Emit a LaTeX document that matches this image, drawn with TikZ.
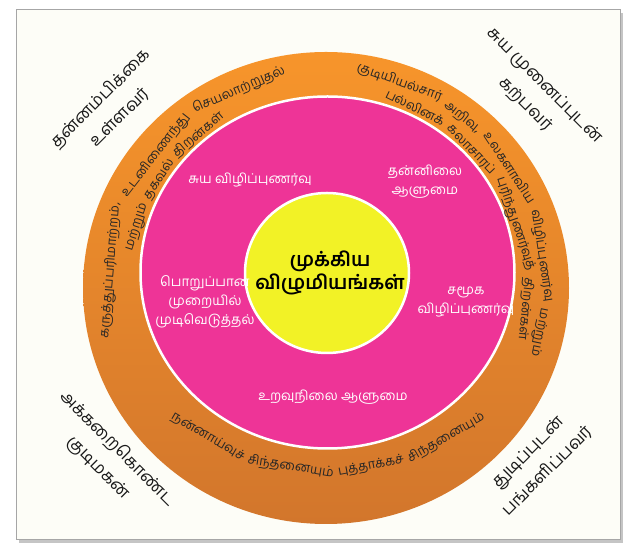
\documentclass[tikz,border=0pt]{standalone}
\usepackage{fontspec}
\usepackage{tikz}
\usetikzlibrary{calc,shadows,shapes.geometric}

\newfontfamily\tamil[Script=Tamil]{Hind Madurai}
\definecolor{framebg}{HTML}{FDFDF7}
\definecolor{ringtop}{HTML}{F7952B}
\definecolor{ringbot}{HTML}{D2762C}
\definecolor{discpink}{HTML}{EE3497}
\definecolor{coreyellow}{HTML}{F2F226}

\newcommand\ringfont{\tamil\fontsize{13}{15}\selectfont}
\newcommand\pinkfont{\tamil\fontsize{13.5}{19}\selectfont}
\newcommand\cornerfont{\tamil\fontsize{17}{27}\selectfont}
\newcommand\corefont{\tamil\bfseries\fontsize{19.5}{23}\selectfont}

% one line of words set along an arc
% #1 centre, #2 radius, #3 middle angle, #4 side (1 top, -1 bottom), #5 words
\newlength\wordwd
\def\arcgap{5}
\newcommand\arcwidth[1]{%
  \pgfinterruptpicture\settowidth\wordwd{\ringfont#1}\xdef\arcw{\the\wordwd}\endpgfinterruptpicture}
\newcommand\arcline[5]{%
  \gdef\arcsum{0}%
  \foreach \arcword in {#5}{%
    \arcwidth{\arcword}%
    \pgfmathsetmacro\arcnew{\arcsum+\arcw+\arcgap}%
    \xdef\arcsum{\arcnew}}%
  \pgfmathsetmacro\arccur{#3+#4*(\arcsum-\arcgap)/2/#2*180/pi}%
  \xdef\arccur{\arccur}%
  \foreach \arcword in {#5}{%
    \arcwidth{\arcword}%
    \pgfmathsetmacro\arcmid{\arccur-#4*(\arcw/2)/#2*180/pi}%
    \pgfmathsetmacro\arcrot{\arcmid-#4*90}%
    \node[ringtext,rotate=\arcrot] at ($(#1)+(\arcmid:#2)$) {\arcword};
    \pgfmathsetmacro\arcnext{\arccur-#4*(\arcw+\arcgap)/#2*180/pi}%
    \xdef\arccur{\arcnext}}%
}

\begin{document}
\begin{tikzpicture}[x=1pt,y=1pt,
  ringtext/.style={font=\ringfont, text=black!85, anchor=base, inner sep=0pt},
  pinktext/.style={font=\pinkfont, text=white, align=center},
  cornertext/.style={font=\cornerfont, text=black!90, align=center}]
  \useasboundingbox (0,0) rectangle (633,559);
  \fill[white] (0,0) rectangle (633,559);

  % frame
  \node (frame) [draw=gray!70, line width=1pt, fill=framebg,
    minimum width=604pt, minimum height=530pt,
    drop shadow={shadow xshift=3pt, shadow yshift=-3pt, opacity=0.45}] at (318,284) {};

  % rings
  \node (ring) [ellipse, inner sep=0pt, minimum width=486pt, minimum height=472pt,
    top color=ringtop, bottom color=ringbot] at (326,271) {};
  \node (disc) [ellipse, inner sep=0pt, minimum width=374pt, minimum height=352pt,
    fill=discpink, draw=white, line width=2.5pt] at (327.5,286.5) {};
  \node (core) [ellipse, inner sep=0pt, minimum width=164pt, minimum height=160pt,
    fill=coreyellow, draw=white, line width=2.5pt] at (327,286) {};

  \coordinate (ringc) at (326,271);
  \coordinate (lowc) at (328,326);

  % centre
  \node (values) [font=\corefont, align=center] at (330,286) {முக்கிய\\விழுமியங்கள்};

  % inner disc
  \node (selfaware) [pinktext] at (250,379) {சுய விழிப்புணர்வு};
  \node (selfmanage) [pinktext] at (425,377) {தன்னிலை\\ஆளுமை};
  \node (decision) [pinktext] at (205,257) {பொறுப்பான\\முறையில்\\முடிவெடுத்தல்};
  \node (socialaware) [pinktext] at (466,257) {சமூக\\விழிப்புணர்வு};
  \node (relation) [pinktext] at (333,162) {உறவுநிலை ஆளுமை};

  % outer ring
  \arcline{ringc}{213}{147}{1}{{கருத்துப்பரிமாற்றம்,},உடனிணைந்து,செயலாற்றுதல்}
  \arcline{ringc}{196}{145}{1}{மற்றும்,தகவல்,திறன்கள்}
  \arcline{ringc}{215}{32}{1}{குடியியல்சார்,{அறிவு,},உலகளாவிய,விழிப்புணர்வு,மற்றும்}
  \arcline{ringc}{197}{29}{1}{பல்லினக்,கலாசாரப்,புரிந்துணர்வுத்,திறன்கள்}
  \arcline{lowc}{240}{270}{-1}{நன்னாய்வுச்,சிந்தனையும்,புத்தாக்கச்,சிந்தனையும்}

  % corners
  \node (confident) [cornertext, rotate=45] at (110,451) {தன்னம்பிக்கை\\உள்ளவர்};
  \node (learner) [cornertext, rotate=-45] at (535,464) {சுய முனைப்புடன்\\கற்பவர்};
  \node (citizen) [cornertext, rotate=-45] at (108,101) {அக்கறைகொண்ட\\குடிமகன்};
  \node (contributor) [cornertext, rotate=45] at (538,97) {துடிப்புடன்\\பங்களிப்பவர்};
\end{tikzpicture}
\end{document}
